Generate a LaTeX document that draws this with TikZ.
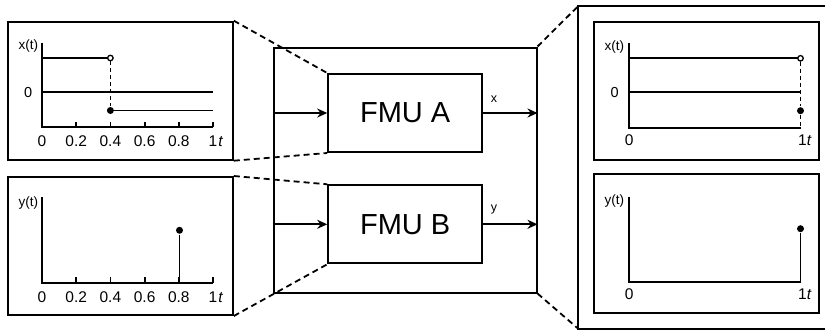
\documentclass[tikz,border=0pt]{standalone}
\usepackage{fontspec}
\setmainfont{Liberation Sans}
\usetikzlibrary{arrows.meta, positioning, calc}

\begin{document}
\begin{tikzpicture}[x=1pt, y=-1pt, line width=1.8pt,
    box/.style={draw, rectangle, line width=2pt, inner sep=0pt},
    plotbox/.style={box, minimum width=225pt, minimum height=138pt},
    fmu/.style={box, minimum width=154pt, minimum height=78pt, font=\fontsize{29}{29}\selectfont},
    link/.style={line width=1.8pt, dash pattern=on 6pt off 4pt},
    jump/.style={dash pattern=on 4pt off 3pt},
    sig/.style={-{Stealth[length=10pt, width=9pt]}},
    siglab/.style={font=\fontsize{12.5}{12.5}\selectfont, inner sep=0pt},
    ticklab/.style={font=\fontsize{15.5}{15.5}\selectfont, inner sep=0pt},
    axlab/.style={font=\fontsize{13.5}{13.5}\selectfont, inner sep=0pt, anchor=east},
    fdot/.style={circle, fill, inner sep=0pt, minimum size=7pt},
    odot/.style={circle, draw, fill=white, line width=1.3pt, inner sep=0pt, minimum size=5.5pt}]
  \useasboundingbox (0,0) rectangle (825,330);

  % boxes
  \node[plotbox] (xleft) at (120.3,90.7) {};
  \node[plotbox] (yleft) at (120.3,246) {};
  \node[box, minimum width=263pt, minimum height=245pt] (sys) at (405,170) {};
  \node[fmu] (fmuA) at (405.2,113) {FMU A};
  \node[fmu] (fmuB) at (405.2,224.3) {FMU B};
  \node[plotbox] (xright) at (706.7,90.7) {};
  \node[plotbox, minimum height=139.6pt] (yright) at (706.7,243.5) {};
  \coordinate (frameNW) at (578.3,6);
  \coordinate (frameSW) at (578.3,328.8);
  \draw[line width=2pt] (840,6) -- (frameNW) -- (frameSW) -- (840,328.8);

  % zoom lines
  \draw[link] (xleft.north east) -- (fmuA.north west);
  \draw[link] (xleft.south east) -- (fmuA.south west);
  \draw[link] (yleft.north east) -- (fmuB.north west);
  \draw[link] (yleft.south east) -- (fmuB.south west);
  \draw[link] (sys.north east) -- (frameNW);
  \draw[link] (sys.south east) -- (frameSW);

  % signals
  \draw[sig] (sys.west |- fmuA.west) -- (fmuA.west);
  \draw[sig] (sys.west |- fmuB.west) -- (fmuB.west);
  \draw[sig] (fmuA.east) -- node[siglab, pos=0.2, above=10pt] (xout) {x} (fmuA.east -| sys.east);
  \draw[sig] (fmuB.east) -- node[siglab, pos=0.2, above=9pt] (yout) {y} (fmuB.east -| sys.east);

  % x(t) left
  \draw (42,42.7) -- (42,127.3) -- (213.3,127.3);
  \foreach \t [count=\i] in {0.2,0.4,0.6,0.8,1}
    \draw (42+171*\t,127.3) -- (42+171*\t,121.5);
  \foreach \t [count=\i] in {0,0.2,0.4,0.6,0.8,1}
    \node[ticklab] (xltick\i) at (42+171*\t,141.5) {\t};
  \node[ticklab, anchor=west] (xlt) at (217.5,141.5) {\textit{t}};
  \node[axlab] (xlname) at (39,46.5) {x(t)};
  \node[axlab, font=\fontsize{14.5}{14.5}\selectfont] (xlzero) at (33,92.3) {0};
  \draw (42,58) -- (110.4,58);
  \draw (42,92.3) -- (213.3,92.3);
  \draw (110.4,110.5) -- (213.3,110.5);
  \node[odot] (xlold) at (110.4,58) {};
  \node[fdot] (xlnew) at (110.4,110.5) {};
  \draw[jump] (xlold) -- (xlnew);

  % y(t) left
  \draw (42,197.3) -- (42,282.7) -- (213.3,282.7);
  \foreach \t [count=\i] in {0.2,0.4,0.6,0.8,1}
    \draw (42+171*\t,282.7) -- (42+171*\t,276.9);
  \foreach \t [count=\i] in {0,0.2,0.4,0.6,0.8,1}
    \node[ticklab] (yltick\i) at (42+171*\t,297.5) {\t};
  \node[ticklab, anchor=west] (ylt) at (217.5,297.5) {\textit{t}};
  \node[axlab] (ylname) at (39,202.7) {y(t)};
  \node[fdot] (ylpulse) at (179.5,230.3) {};
  \draw (ylpulse) -- (179.5,282.7);

  % x(t) right
  \draw (629.3,42.7) -- (629.3,128.3) -- (800.5,128.3);
  \node[ticklab] (xrtick1) at (629.3,140.5) {0};
  \node[ticklab] (xrtick2) at (802.5,140.5) {1};
  \node[ticklab, anchor=west] (xrt) at (806,140.5) {\textit{t}};
  \node[axlab] (xrname) at (625,46.7) {x(t)};
  \node[axlab, font=\fontsize{14.5}{14.5}\selectfont] (xrzero) at (619.5,92.3) {0};
  \draw (629.3,58.3) -- (800.5,58.3);
  \draw (629.3,92.3) -- (800.5,92.3);
  \node[odot] (xrold) at (800.5,58.3) {};
  \node[fdot] (xrnew) at (800.5,110.7) {};
  \draw[jump] (xrold) -- (xrnew) -- (800.5,128.3);

  % y(t) right
  \draw (629.3,196.7) -- (629.3,281.7) -- (800.5,281.7);
  \node[ticklab] (yrtick1) at (629.3,294.5) {0};
  \node[ticklab] (yrtick2) at (802.5,294.5) {1};
  \node[ticklab, anchor=west] (yrt) at (806,294.5) {\textit{t}};
  \node[axlab] (yrname) at (625,201) {y(t)};
  \node[fdot] (yrpulse) at (800.5,228.7) {};
  \draw (yrpulse) -- (800.5,281.7);
\end{tikzpicture}
\end{document}
